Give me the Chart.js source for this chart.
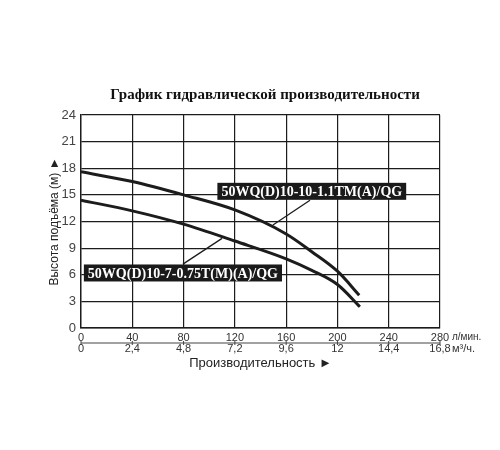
<!DOCTYPE html>
<html lang="ru">
<head>
  <meta charset="UTF-8" />
  <title>График гидравлической производительности</title>
  <script src="https://cdn.jsdelivr.net/npm/chart.js"></script>
  <style>
    body { margin: 0; background: #fff; }
    canvas { display: block; }
  </style>
</head>
<body>
  <canvas id="pumpChart" width="500" height="450"></canvas>

  <script>
    // кривые насосов (л/мин -> м)
    const flowA = [0, 40, 80, 120, 160, 180, 200, 217];
    const headA = [17.6, 16.5, 15.0, 13.3, 10.6, 8.6, 6.4, 3.7];
    const flowB = [0, 40, 80, 120, 160, 180, 200, 217.5];
    const headB = [14.4, 13.2, 11.7, 9.8, 7.8, 6.5, 4.9, 2.4];

    const nameA = '50WQ(D)10-10-1.1TM(A)/QG';
    const nameB = '50WQ(D)10-7-0.75T(M)(A)/QG';

    const flowTicks = [0, 40, 80, 120, 160, 200, 240, 280];
    const m3Labels = ['0', '2,4', '4,8', '7,2', '9,6', '12', '14,4', '16,8'];

    const ink = '#1c1c1c';
    const sans = "'Liberation Sans', Arial, sans-serif";
    const serif = "'Liberation Serif', 'Times New Roman', serif";

    // заголовок над графиком
    const titlePlugin = {
      id: 'topTitle',
      afterDraw(chart) {
        const { ctx } = chart;
        ctx.save();
        ctx.font = 'bold 15px ' + serif;
        ctx.fillStyle = '#111';
        ctx.textAlign = 'center';
        ctx.textBaseline = 'middle';
        ctx.fillText('График гидравлической производительности', 265, 95);
        ctx.restore();
      }
    };

    // подписи моделей и выносные линии
    const labelsPlugin = {
      id: 'labels',
      afterDatasetsDraw(chart) {
        const { ctx, scales: { x, y } } = chart;
        const items = [
          { text: nameA, cx: 180, cy: 15.4, from: [178.6, 14.4], to: [149.7, 11.6] },
          { text: nameB, cx: 79.5, cy: 6.2, from: [79.5, 7.2], to: [110, 10.1] }
        ];
        ctx.save();
        items.forEach(it => {
          ctx.strokeStyle = ink;
          ctx.lineWidth = 1.3;
          ctx.beginPath();
          ctx.moveTo(x.getPixelForValue(it.from[0]), y.getPixelForValue(it.from[1]));
          ctx.lineTo(x.getPixelForValue(it.to[0]), y.getPixelForValue(it.to[1]));
          ctx.stroke();

          ctx.font = 'bold 14px ' + serif;
          const w = ctx.measureText(it.text).width + 8;
          const h = 17;
          const px = x.getPixelForValue(it.cx);
          const py = y.getPixelForValue(it.cy);
          ctx.fillStyle = '#1a1a1a';
          ctx.fillRect(px - w / 2, py - h / 2, w, h);
          ctx.fillStyle = '#fff';
          ctx.textAlign = 'center';
          ctx.textBaseline = 'middle';
          ctx.fillText(it.text, px, py + 1);
        });
        ctx.restore();
      }
    };

    // вторая шкала (м³/ч) и единицы
    const secondAxis = {
      id: 'secondAxis',
      afterDraw(chart) {
        const { ctx, chartArea, scales: { x } } = chart;
        const lineY = chartArea.bottom + 15;
        ctx.save();
        ctx.strokeStyle = '#444';
        ctx.lineWidth = 1;
        ctx.beginPath();
        ctx.moveTo(chartArea.left, lineY);
        ctx.lineTo(chartArea.right, lineY);
        flowTicks.forEach(v => {
          const px = x.getPixelForValue(v);
          ctx.moveTo(px, lineY - 2);
          ctx.lineTo(px, lineY + 2);
        });
        ctx.stroke();

        ctx.font = '11px ' + sans;
        ctx.fillStyle = '#333';
        ctx.textAlign = 'center';
        ctx.textBaseline = 'middle';
        flowTicks.forEach((v, i) => {
          ctx.fillText(m3Labels[i], x.getPixelForValue(v), lineY + 6);
        });
        ctx.textAlign = 'left';
        ctx.font = '10px ' + sans;
        ctx.fillText('л/мин.', chartArea.right + 12, chartArea.bottom + 9);
        ctx.font = '11px ' + sans;
        ctx.fillText('м³/ч.', chartArea.right + 12, lineY + 6);
        ctx.restore();
      }
    };

    const ctx = document.getElementById('pumpChart').getContext('2d');

    new Chart(ctx, {
      type: 'line',
      data: {
        datasets: [
          { label: nameA, data: flowA.map((f, i) => ({ x: f, y: headA[i] })) },
          { label: nameB, data: flowB.map((f, i) => ({ x: f, y: headB[i] })) }
        ]
      },
      options: {
        responsive: false,
        animation: false,
        layout: { padding: { left: 42, right: 60, top: 115, bottom: 77 } },
        elements: {
          line: { borderColor: ink, borderWidth: 3, cubicInterpolationMode: 'monotone', fill: false },
          point: { radius: 0 }
        },
        plugins: {
          legend: { display: false },
          tooltip: { enabled: false },
          title: { display: false }
        },
        scales: {
          x: {
            type: 'linear',
            min: 0,
            max: 280,
            afterFit(s) { s.height = 45; s.paddingLeft = 0; s.paddingRight = 0; },
            ticks: { stepSize: 40, color: '#333', font: { family: sans, size: 11 }, padding: 3, maxRotation: 0 },
            grid: { color: ink, lineWidth: 1.2, drawTicks: false },
            border: { color: ink, width: 1.4 },
            title: {
              display: true,
              text: 'Производительность ►',
              color: '#222',
              font: { family: sans, size: 13 },
              padding: { top: 0, bottom: 2 }
            }
          },
          y: {
            min: 0,
            max: 24,
            afterFit(s) { s.width = 39; },
            ticks: { stepSize: 3, color: '#444', font: { family: sans, size: 13 }, padding: 5 },
            grid: { color: ink, lineWidth: 1.2, drawTicks: false },
            border: { color: ink, width: 1.4 },
            title: {
              display: true,
              text: 'Высота подъёма (м) ►',
              color: '#222',
              font: { family: sans, size: 12 },
              padding: { top: 5, bottom: 0 }
            }
          }
        }
      },
      plugins: [titlePlugin, labelsPlugin, secondAxis]
    });
  </script>
</body>
</html>
